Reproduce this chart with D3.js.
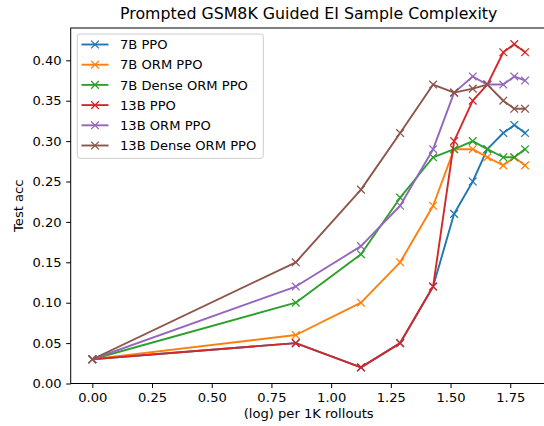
<!DOCTYPE html>
<html><head><meta charset="utf-8">
<script src="https://cdn.jsdelivr.net/npm/d3@7"></script>
<style>body{margin:0;background:#fff;} svg{display:block;font-family:"DejaVu Sans",sans-serif;}</style>
</head><body>
<script>
const xVals = [0, 0.852, 1.125, 1.289, 1.427, 1.515, 1.593, 1.654, 1.721, 1.767, 1.812];
const seriesNames = ["7B PPO","7B ORM PPO","7B Dense ORM PPO","13B PPO","13B ORM PPO","13B Dense ORM PPO"];
const ppo7B      = [0.03,0.05,0.02,0.05,0.12,0.21,0.25,0.29,0.31,0.32,0.31];
const ormPpo7B   = [0.03,0.06,0.10,0.15,0.22,0.29,0.29,0.28,0.27,0.28,0.27];
const densePpo7B = [0.03,0.10,0.16,0.23,0.28,0.29,0.30,0.29,0.28,0.28,0.29];
const ppo13B     = [0.03,0.05,0.02,0.05,0.12,0.30,0.35,0.37,0.41,0.42,0.41];
const ormPpo13B  = [0.03,0.12,0.17,0.22,0.29,0.36,0.38,0.37,0.37,0.38,0.375];
const densePpo13B= [0.03,0.15,0.24,0.31,0.37,0.36,0.365,0.37,0.35,0.34,0.34];
const xTicks = [0,0.25,0.5,0.75,1.0,1.25,1.5,1.75];
const yTicks = [0,0.05,0.1,0.15,0.2,0.25,0.3,0.35,0.4];
const colors = ["#1f77b4","#ff7f0e","#2ca02c","#d62728","#9467bd","#8c564b"];

const allSeries = [ppo7B, ormPpo7B, densePpo7B, ppo13B, ormPpo13B, densePpo13B];
const W=544,H=426;
const svg=d3.select("body").append("svg").attr("width",W).attr("height",H);
const pLeft=70.7, pTop=28, pBottom=383.5;
const x=d3.scaleLinear().domain([-0.0906,1.9026]).range([pLeft,pLeft+1.9932*238.8]);
const y=d3.scaleLinear().domain([0,0.44]).range([pBottom,pTop]);
const pRight=x.range()[1];
const fs=13.1;

// series
const line=d3.line().x((d,i)=>x(xVals[i])).y(d=>y(d));
const ms=3.85;
allSeries.forEach((s,k)=>{
  const g=svg.append("g");
  g.append("path").attr("d",line(s)).attr("fill","none").attr("stroke",colors[k]).attr("stroke-width",1.9).attr("stroke-linejoin","round").attr("stroke-linecap","square");
  g.selectAll("path.m").data(s).enter().append("path").attr("class","m")
    .attr("d",(d,i)=>{const cx=x(xVals[i]),cy=y(d);return `M${cx-ms},${cy-ms}L${cx+ms},${cy+ms}M${cx-ms},${cy+ms}L${cx+ms},${cy-ms}`;})
    .attr("stroke",colors[k]).attr("stroke-width",1.3).attr("fill","none");
});

// axes
const xa=svg.append("g").attr("transform",`translate(0,${pBottom})`).call(d3.axisBottom(x).tickValues(xTicks).tickFormat(d3.format(".2f")).tickSize(4.5).tickPadding(4.5));
const ya=svg.append("g").attr("transform",`translate(${pLeft},0)`).call(d3.axisLeft(y).tickValues(yTicks).tickFormat(d3.format(".2f")).tickSize(4.5).tickPadding(4.5));
[xa,ya].forEach(a=>{a.select(".domain").remove();a.selectAll("text").attr("font-size",fs).attr("fill","#000").attr("font-family","DejaVu Sans");a.selectAll("line").attr("stroke","#000").attr("stroke-width",1);});
// spines
svg.append("rect").attr("x",pLeft).attr("y",pTop).attr("width",pRight-pLeft).attr("height",pBottom-pTop).attr("fill","none").attr("stroke","#000").attr("stroke-width",1);

// labels
svg.append("text").attr("x",(pLeft+pRight)/2).attr("y",19).attr("text-anchor","middle").attr("font-size",15.8).text("Prompted GSM8K Guided EI Sample Complexity");
svg.append("text").attr("x",(pLeft+pRight)/2).attr("y",418).attr("text-anchor","middle").attr("font-size",fs).text("(log) per 1K rollouts");
svg.append("text").attr("transform",`translate(23,${(pTop+pBottom)/2}) rotate(-90)`).attr("text-anchor","middle").attr("font-size",fs).text("Test acc");

// legend
const lg=svg.append("g");
lg.append("rect").attr("x",77.3).attr("y",34).attr("width",186).attr("height",124.3).attr("rx",2.5).attr("fill","#fff").attr("fill-opacity",0.8).attr("stroke","#cccccc").attr("stroke-width",1);
seriesNames.forEach((n,k)=>{
  const ly=44.5+k*20.2;
  lg.append("line").attr("x1",81.5).attr("x2",108.5).attr("y1",ly).attr("y2",ly).attr("stroke",colors[k]).attr("stroke-width",1.9);
  lg.append("path").attr("d",`M${95-ms},${ly-ms}L${95+ms},${ly+ms}M${95-ms},${ly+ms}L${95+ms},${ly-ms}`).attr("stroke",colors[k]).attr("stroke-width",1.3);
  lg.append("text").attr("x",120).attr("y",ly+4.6).attr("font-size",fs).text(n);
});
</script>
</body></html>
